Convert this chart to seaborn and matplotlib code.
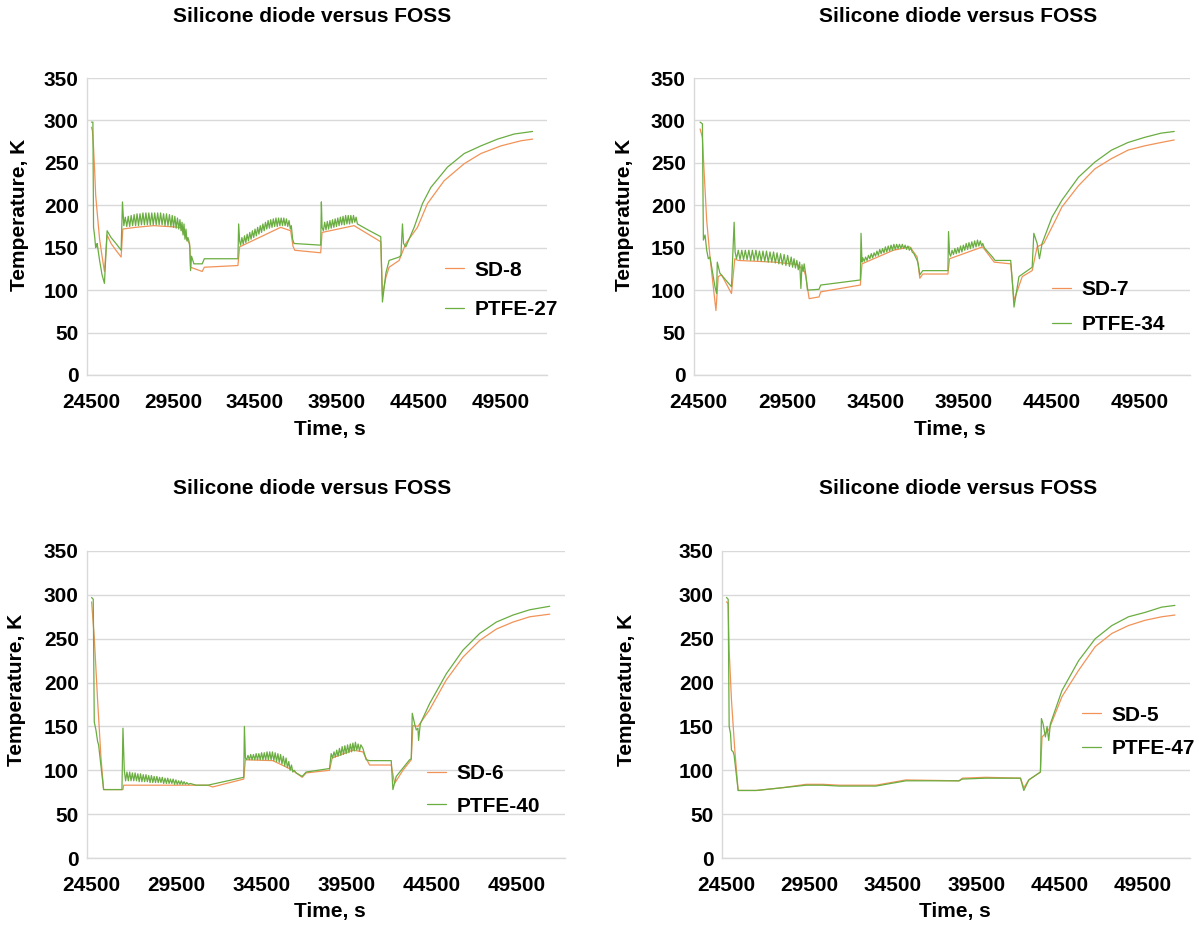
import matplotlib
matplotlib.use("Agg")
import matplotlib.pyplot as plt
import seaborn as sns
import pandas as pd

# ---------------- data: (time s, temperature K) ----------------
sd8 = [(24500,292),(24560,288),(24620,272),(24700,240),(24760,212),(24850,192),(25000,160),(25150,140),
       (25296,122),(25459,165),(25700,155),(26000,147),(26316,139),(26420,172),(27200,174),(28315,176),
       (29947,174),(30355,159),(30500,155),(30559,127),(31273,122),(31400,127),(33456,129),(33560,151),
       (36067,174),(36680,170),(36820,152),(36930,147),(38516,144),(38600,168),(40556,176),(41500,165),
       (42188,157),(42290,94),(42500,115),(42698,127),(43310,135),(43718,155),(44432,174),(45044,202),
       (46064,229),(47288,249),(48308,261),(49532,270),(50756,276),(51470,278)]

ptfe27 = [(24500,298),(24590,298),(24630,174),(24700,163),(24760,150),(24800,152),(24850,155),(25000,135),
          (25150,118),(25296,108),(25459,170),(25700,162),(26000,155),(26316,147),(26398,204),(26450,185),
          (26480,176),(26570,186),(26660,175),(26750,187),(26840,175),(26930,188),(27020,176),(27110,189),
          (27200,176),(27290,190),(27380,176),(27470,190),(27560,177),(27650,191),(27740,177),(27830,191),
          (27920,177),(28010,191),(28100,177),(28190,191),(28280,177),(28370,191),(28460,177),(28550,191),
          (28640,177),(28730,191),(28820,177),(28910,190),(29000,176),(29090,190),(29180,176),(29270,189),
          (29360,175),(29440,188),(29520,174),(29600,187),(29680,173),(29760,185),(29840,172),(29910,183),
          (29980,170),(30040,180),(30100,165),(30160,178),(30220,160),(30280,172),(30340,158),(30400,162),
          (30460,158),(30520,150),(30560,123),(30620,140),(30763,131),(31273,131),(31400,137),(33456,137),
          (33500,178),(33560,158),(33620,153),(33700,162),(33780,154),(33860,164),(33940,156),(34020,166),
          (34100,158),(34180,168),(34260,160),(34340,170),(34420,162),(34500,172),(34580,164),(34660,174),
          (34740,166),(34820,176),(34900,168),(34980,178),(35060,170),(35140,180),(35220,172),(35300,182),
          (35380,173),(35460,183),(35540,174),(35620,184),(35700,175),(35780,185),(35860,175),(35940,185),
          (36020,176),(36100,185),(36180,176),(36260,185),(36340,176),(36420,184),(36500,175),(36580,182),
          (36660,172),(36720,176),(36800,160),(36884,155),(38516,153),(38557,204),(38600,174),(38680,170),
          (38760,180),(38840,171),(38920,181),(39000,172),(39080,182),(39160,173),(39240,183),(39320,174),
          (39400,184),(39480,175),(39560,185),(39640,176),(39720,186),(39800,177),(39880,187),(39960,177),
          (40040,188),(40120,178),(40200,188),(40280,178),(40360,188),(40440,179),(40520,188),(40600,180),
          (40680,186),(40760,178),(41500,170),(42188,163),(42290,86),(42500,120),(42698,135),(43310,139),
          (43420,141),(43514,178),(43580,155),(43718,151),(44228,174),(44738,202),(45248,221),(46268,245),
          (47288,261),(48308,270),(49328,278),(50348,284),(51470,287)]

sd7 = [(24575,290),(24706,280),(24800,241),(24950,182),(25137,139),(25324,104),(25474,76),(25605,116),
       (25793,118),(26355,96),(26542,137),(26729,135),(28790,133),(29727,131),(30101,130),(30476,123),
       (30570,116),(30757,90),(31319,92),(31413,98),(33661,106),(33754,131),(35534,147),(36471,151),
       (36883,139),(37033,114),(37200,119),(38625,119),(38719,137),(40592,151),(41248,133),(42185,131),
       (42372,88),(42840,116),(43402,123),(43683,151),(44058,155),(44713,182),(45088,198),(46025,223),
       (46961,243),(47898,255),(48835,265),(49771,270),(50708,274),(51457,277)]

ptfe34 = [(24575,298),(24706,296),(24762,159),(24856,165),(24950,147),(25043,137),(25137,139),(25418,104),
          (25512,96),(25549,133),(25699,120),(26355,104),(26505,180),(26560,145),(26640,137),(26740,147),
          (26840,136),(26940,147),(27040,136),(27140,147),(27240,136),(27340,147),(27440,135),(27540,147),
          (27640,135),(27740,147),(27840,135),(27940,146),(28040,134),(28140,146),(28240,134),(28340,146),
          (28440,133),(28540,145),(28640,133),(28740,145),(28840,132),(28940,144),(29040,131),(29140,143),
          (29240,130),(29340,142),(29440,129),(29540,141),(29640,128),(29740,139),(29820,127),(29900,137),
          (29980,126),(30060,135),(30140,124),(30220,133),(30290,102),(30350,130),(30420,122),(30476,131),
          (30570,118),(30663,100),(31319,101),(31413,106),(33661,112),(33700,167),(33754,133),(33800,138),
          (33880,134),(33960,139),(34040,135),(34120,141),(34200,137),(34280,143),(34360,138),(34440,144),
          (34520,140),(34600,146),(34680,141),(34760,148),(34840,143),(34920,149),(35000,144),(35080,151),
          (35160,145),(35240,152),(35320,146),(35400,153),(35480,147),(35560,154),(35640,148),(35720,154),
          (35800,149),(35880,154),(35960,149),(36040,154),(36120,149),(36200,153),(36280,148),(36360,152),
          (36440,147),(36520,150),(36600,145),(36700,143),(36883,135),(36939,131),(37033,118),(37200,123),
          (38625,123),(38660,169),(38719,143),(38780,140),(38860,147),(38940,142),(39020,149),(39100,143),
          (39180,150),(39260,144),(39340,152),(39420,145),(39500,153),(39580,147),(39660,155),(39740,148),
          (39820,156),(39900,149),(39980,157),(40060,150),(40140,158),(40220,151),(40300,159),(40380,152),
          (40460,158),(40540,152),(40600,155),(40686,150),(41154,139),(41300,135),(42185,135),(42278,110),
          (42372,80),(42653,116),(43402,127),(43496,167),(43683,155),(43814,137),(43964,155),(44526,186),
          (45088,206),(46025,233),(46961,251),(47898,265),(48835,274),(49771,280),(50708,285),(51457,287)]

sd6 = [(24500,292),(24657,252),(24853,180),(25050,115),(25207,78),(26345,78),(26384,83),(30644,83),
       (31331,83),(31626,81),(33451,90),(33549,112),(35159,111),(35700,106),(36337,100),(36533,97),
       (36887,92),(37122,97),(38496,100),(38653,114),(39870,123),(40459,121),(40852,106),(42128,106),
       (42324,85),(42815,100),(43305,112),(43404,151),(43698,150),(44385,169),(45367,203),(46348,229),
       (47330,248),(48311,261),(49293,269),(50274,275),(51452,278)]

ptfe40 = [(24500,297),(24598,295),(24657,155),(24755,146),(24853,133),(24912,129),(25207,78),(26286,78),
          (26345,148),(26424,100),(26500,88),(26580,98),(26660,88),(26740,98),(26820,88),(26900,97),
          (26980,88),(27060,97),(27140,88),(27220,96),(27300,87),(27380,96),(27460,87),(27540,95),
          (27620,87),(27700,95),(27780,87),(27860,94),(27940,86),(28020,94),(28100,86),(28180,93),
          (28260,86),(28340,93),(28420,86),(28500,92),(28580,86),(28660,92),(28740,85),(28820,91),
          (28900,85),(28980,91),(29060,85),(29140,90),(29220,85),(29300,90),(29380,84),(29460,89),
          (29540,84),(29620,88),(29700,84),(29780,88),(29860,84),(29940,87),(30020,84),(30100,86),
          (30200,84),(30300,85),(30644,83),(31331,83),(33451,92),(33490,150),(33549,114),(33620,112),
          (33700,117),(33780,112),(33860,118),(33940,112),(34020,118),(34100,112),(34180,119),(34260,112),
          (34340,119),(34420,112),(34500,120),(34580,112),(34660,120),(34740,112),(34820,121),(34900,112),
          (34980,121),(35060,112),(35140,121),(35220,111),(35300,120),(35380,110),(35460,119),(35540,109),
          (35620,118),(35700,107),(35780,116),(35860,105),(35940,114),(36020,103),(36100,110),(36180,100),
          (36260,106),(36337,98),(36420,100),(36533,97),(36887,93),(37122,98),(38496,102),(38594,119),
          (38680,114),(38760,121),(38840,115),(38920,123),(39000,116),(39080,125),(39160,117),(39240,127),
          (39320,118),(39400,128),(39480,119),(39560,129),(39640,120),(39720,130),(39800,121),(39870,131),
          (39950,122),(40020,132),(40100,123),(40180,130),(40260,122),(40340,129),(40459,125),(40655,112),
          (40852,111),(42128,111),(42226,78),(42422,93),(43207,112),(43305,113),(43364,165),(43502,153),
          (43600,146),(43698,148),(43737,134),(43836,153),(44385,176),(45367,210),(46348,237),(47330,256),
          (48311,269),(49293,277),(50274,283),(51452,287)]

sd5 = [(24500,292),(24600,290),(24660,237),(24799,180),(24999,123),(25199,77),(26296,77),(27800,80),
       (29290,84),(30288,84),(31286,83),(33482,83),(35278,89),(38472,88),(38672,91),(40069,92),
       (42165,91),(42364,80),(42664,89),(43362,98),(43462,138),(43861,146),(44660,184),(45658,214),
       (46656,241),(47654,256),(48652,265),(49650,271),(50648,275),(51446,277)]

ptfe47 = [(24500,297),(24600,295),(24660,150),(24740,142),(24799,123),(24899,121),(24959,117),(25199,77),
          (26296,77),(27800,80),(29290,83),(30288,83),(31286,82),(33482,82),(35278,88),(38472,88),
          (38672,90),(40069,91),(42165,91),(42364,77),(42664,89),(43362,98),(43422,159),(43522,153),
          (43662,138),(43761,150),(43861,134),(43961,153),(44660,191),(45658,225),(46656,250),(47654,265),
          (48652,275),(49650,280),(50648,286),(51446,288)]

panels = [
    ("SD-8", sd8, "PTFE-27", ptfe27),
    ("SD-7", sd7, "PTFE-34", ptfe34),
    ("SD-6", sd6, "PTFE-40", ptfe40),
    ("SD-5", sd5, "PTFE-47", ptfe47),
]
x_ticks = [24500, 29500, 34500, 39500, 44500, 49500]
y_ticks = [0, 50, 100, 150, 200, 250, 300, 350]
title = "Silicone diode versus FOSS"
xlabel = "Time, s"
ylabel = "Temperature, K"

# ---------------- styling ----------------
sns.set_theme(style="white")
plt.rcParams['font.family'] = ['Liberation Sans', 'DejaVu Sans']
plt.rcParams['font.weight'] = 'bold'
plt.rcParams['text.color'] = 'black'

W, H = 1199, 926
fig = plt.figure(figsize=(W / 100, H / 100), dpi=100)

FS = 15
# axes rectangles in pixels: left, top, right, bottom
rects = [(87, 78, 547, 375), (694, 78, 1190, 375), (87, 551, 565, 858), (722, 551, 1190, 858)]
title_pos = [(312, 17), (958, 17), (312, 488), (958, 488)]
xlabel_pos = [(330, 430), (950, 430), (330, 912), (955, 912)]
ylabel_pos = [(20, 215), (625, 215), (17, 690), (627, 690)]
# legend: x of handle start, y center, labelspacing
leg_pos = [(445, 290, 1.0), (1052, 307, 0.75), (427, 790, 0.65), (1082, 732, 0.7)]

ORANGE = "#F19358"
GREEN = "#6AAD40"
GRID = "#D9D9D9"

for i, (n1, s1, n2, s2) in enumerate(panels):
    l, t, r, b = rects[i]
    ax = fig.add_axes([l / W, 1 - b / H, (r - l) / W, (b - t) / H])
    d1 = pd.DataFrame(s1, columns=["time", "temp"])
    d2 = pd.DataFrame(s2, columns=["time", "temp"])
    sns.lineplot(data=d1, x="time", y="temp", ax=ax, color=ORANGE, lw=0.9, estimator=None, label=n1)
    sns.lineplot(data=d2, x="time", y="temp", ax=ax, color=GREEN, lw=0.9, estimator=None, label=n2)
    ax.set_xlim(24230, 52350)
    ax.set_ylim(0, 350)
    ax.set_xticks(x_ticks)
    ax.set_yticks(y_ticks)
    ax.set_xticklabels([str(v) for v in x_ticks], fontsize=FS, fontweight='bold', color='black')
    ax.set_yticklabels([str(v) for v in y_ticks], fontsize=FS, fontweight='bold', color='black')
    ax.tick_params(axis='both', length=0)
    ax.tick_params(axis='x', pad=13)
    ax.tick_params(axis='y', pad=6)
    ax.grid(axis='y', color=GRID, lw=1)
    ax.grid(axis='x', visible=False)
    for sp in ['top', 'right']:
        ax.spines[sp].set_visible(False)
    for sp in ['left', 'bottom']:
        ax.spines[sp].set_color(GRID)
        ax.spines[sp].set_linewidth(1)
    ax.set_xlabel("")
    ax.set_ylabel("")
    hx, hy, ls = leg_pos[i]
    leg = ax.legend(loc='center left', bbox_to_anchor=(hx / W, 1 - hy / H),
                    bbox_transform=fig.transFigure, frameon=False, fontsize=FS,
                    handlelength=0.9, handletextpad=0.5, labelspacing=ls,
                    borderpad=0, borderaxespad=0)
    for txt in leg.get_texts():
        txt.set_fontweight('bold')
        txt.set_color('black')
    for ln in leg.get_lines():
        ln.set_linewidth(0.9)

    tx, ty = title_pos[i]
    fig.text(tx / W, 1 - ty / H, title, ha='center', va='center', fontsize=FS, fontweight='bold')
    xx, xy = xlabel_pos[i]
    fig.text(xx / W, 1 - xy / H, xlabel, ha='center', va='center', fontsize=FS, fontweight='bold')
    yx, yy = ylabel_pos[i]
    fig.text(yx / W, 1 - yy / H, ylabel, ha='center', va='center', rotation=90, fontsize=FS, fontweight='bold')

fig.savefig("out.png", dpi=100, facecolor="white")
